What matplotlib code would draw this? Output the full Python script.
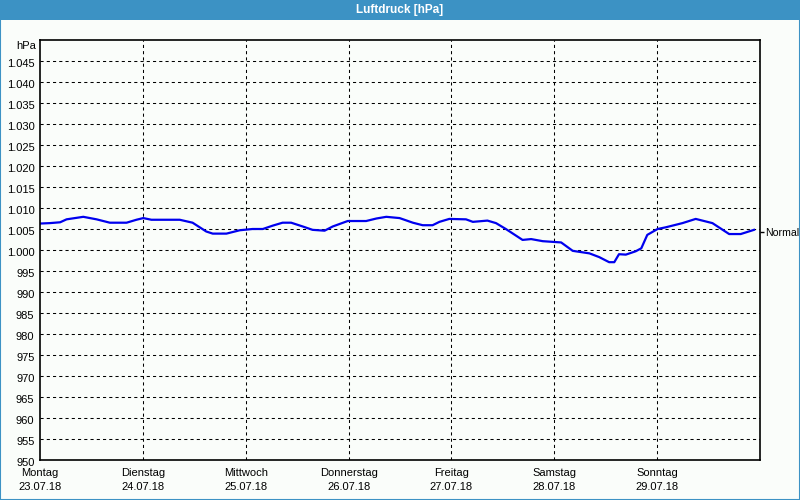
import matplotlib
matplotlib.use("Agg")
import matplotlib.pyplot as plt
import matplotlib.transforms as mtrans
from matplotlib.patches import Rectangle

plt.rcParams['font.family'] = ['Liberation Sans', 'DejaVu Sans']

# ---- data ----
hours = [0, 2.3, 4.7, 6.2, 10.1, 13.2, 16.3, 20.2, 22.5, 24.1, 26.0, 32.6, 35.6,
         38.8, 40.3, 43.5, 46.6, 49.6, 52.0, 54.3, 56.6, 58.6, 61.3, 63.6, 66.4,
         68.3, 71.8, 76.1, 78.5, 80.8, 83.9, 87.0, 89.3, 91.6, 93.2, 95.5, 99.4,
         101.0, 104.4, 106.4, 108.7, 112.6, 114.6, 117.3, 121.6, 124.3, 128.2,
         130.5, 132.8, 134.0, 135.1, 136.7, 139.0, 140.3, 141.7, 144.1, 146.0,
         149.9, 153.0, 156.9, 160.8, 163.5, 166.6]
pressure = [1006.3, 1006.4, 1006.6, 1007.3, 1007.9, 1007.3, 1006.5, 1006.5, 1007.2,
            1007.6, 1007.2, 1007.2, 1006.5, 1004.4, 1003.9, 1003.9, 1004.7, 1005.0,
            1005.0, 1005.8, 1006.5, 1006.5, 1005.6, 1004.8, 1004.6, 1005.6, 1006.9,
            1006.9, 1007.5, 1007.9, 1007.6, 1006.5, 1005.9, 1005.9, 1006.7, 1007.4,
            1007.3, 1006.7, 1007.0, 1006.4, 1005.0, 1002.4, 1002.6, 1002.1, 1001.8,
            999.8, 999.2, 998.3, 997.1, 997.1, 999.0, 998.9, 999.7, 1000.4, 1003.6,
            1005.0, 1005.4, 1006.4, 1007.4, 1006.4, 1003.8, 1003.8, 1004.8]
day_names = ["Montag", "Dienstag", "Mittwoch", "Donnerstag", "Freitag", "Samstag", "Sonntag"]
day_dates = ["23.07.18", "24.07.18", "25.07.18", "26.07.18", "27.07.18", "28.07.18", "29.07.18"]
y_ticks = list(range(950, 1050, 5))
normal_value = 1004.2
title = "Luftdruck [hPa]"
unit = "hPa"

bg = '#fafdfa'
blue_bar = '#3c92c4'

fig = plt.figure(figsize=(8, 5), dpi=100, facecolor=bg)

# title bar and border
fig.patches.append(Rectangle((0, 0.96), 1, 0.04, transform=fig.transFigure,
                             facecolor=blue_bar, edgecolor='none', zorder=0))
fig.patches.append(Rectangle((0.0006, 0.001), 0.9988, 0.998, transform=fig.transFigure,
                             facecolor='none', edgecolor=blue_bar, linewidth=1.5, zorder=0))
fig.text(0.5, 0.979, title, color='white', fontsize=8.5, fontweight='bold',
         ha='center', va='center')

ax = fig.add_axes([0.05, 0.08, 0.90, 0.84], facecolor=bg)
ax.set_xlim(0, 168)
ax.set_ylim(950, 1050)

ax.plot(hours, pressure, color='#0000ee', linewidth=1.6, solid_joinstyle='round')

# grid
for y in y_ticks[1:]:
    ax.axhline(y, color='black', linewidth=0.75, linestyle=(0, (3, 3)), zorder=0)
for i in range(1, len(day_names)):
    ax.axvline(i * 24, color='black', linewidth=0.75, linestyle=(0, (3, 3)), zorder=0)

for s in ax.spines.values():
    s.set_color('black')
    s.set_linewidth(1.2)

def fmt(v):
    return f"{v // 1000}.{v % 1000:03d}" if v >= 1000 else str(v)

ax.set_yticks(y_ticks)
ax.set_yticklabels([fmt(v) for v in y_ticks])
ax.set_xticks([i * 24 for i in range(len(day_names))])
ax.set_xticklabels([f"{n}\n{d}" for n, d in zip(day_names, day_dates)], linespacing=1.5)
ax.tick_params(axis='y', length=0, pad=4, labelsize=8, colors='black')
ax.tick_params(axis='x', length=0, pad=6, labelsize=8, colors='black')
offset = mtrans.ScaledTranslation(0, -2/100, fig.dpi_scale_trans)
for lab in ax.get_yticklabels():
    lab.set_transform(lab.get_transform() + offset)

ax.text(-0.005, 0.985, unit, transform=ax.transAxes, ha='right', va='center', fontsize=8)

ax2 = ax.twinx()
ax2.set_ylim(950, 1050)
ax2.set_yticks([normal_value])
ax2.set_yticklabels(["Normal"])
ax2.tick_params(axis='y', length=3, width=1, pad=0.5, labelsize=7.6, direction='out')
for s in ax2.spines.values():
    s.set_visible(False)

fig.savefig("out.png", dpi=100, facecolor=bg)
